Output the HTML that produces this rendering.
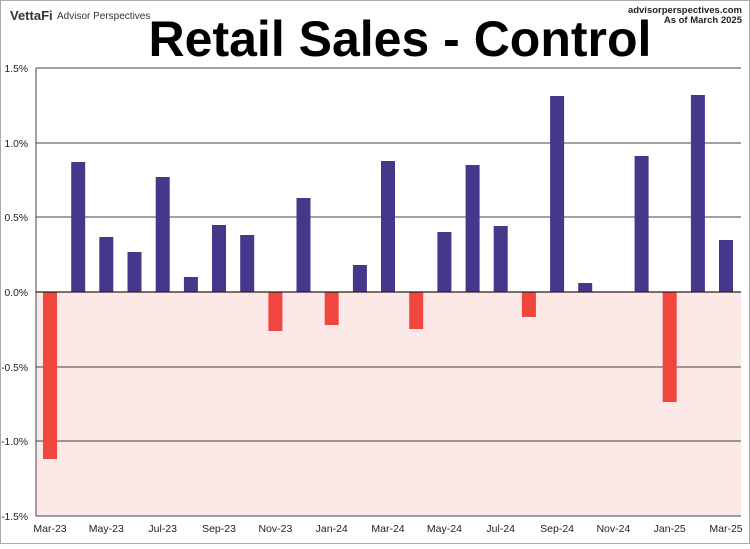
<!DOCTYPE html>
<html><head><style>html,body{margin:0;padding:0;background:#fff}</style></head><body>
<svg width="750" height="544" xmlns="http://www.w3.org/2000/svg" font-family="Liberation Sans, sans-serif">
<rect x="0.5" y="0.5" width="749" height="543" fill="#fff" stroke="#aaa"/>
<text x="10" y="20" font-size="13" font-weight="bold" fill="#333">VettaFi</text>
<text x="57" y="19" font-size="10" fill="#333">Advisor Perspectives</text>
<text x="400" y="56" font-size="50" font-weight="bold" text-anchor="middle" fill="#000">Retail Sales - Control</text>
<text x="742" y="13" font-size="9.5" font-weight="bold" text-anchor="end" fill="#222">advisorperspectives.com</text>
<text x="742" y="23" font-size="9.5" font-weight="bold" text-anchor="end" fill="#222">As of March 2025</text>
<rect x="36" y="292" width="705" height="224" fill="#fde8e8"/>
<g stroke="#444" stroke-width="1">
<line x1="36" y1="68" x2="741" y2="68"/>
<line x1="36" y1="143" x2="741" y2="143"/>
<line x1="36" y1="217" x2="741" y2="217"/>
<line x1="36" y1="367" x2="741" y2="367"/>
<line x1="36" y1="441" x2="741" y2="441"/>
<line x1="36" y1="68" x2="36" y2="516"/>
<line x1="36" y1="516" x2="741" y2="516"/>
</g>
<g fill="#46378a">
<rect x="71.2" y="162" width="14" height="130"/>
<rect x="99.3" y="237" width="14" height="55"/>
<rect x="127.5" y="252" width="14" height="40"/>
<rect x="155.7" y="177" width="14" height="115"/>
<rect x="183.9" y="277" width="14" height="15"/>
<rect x="212" y="225" width="14" height="67"/>
<rect x="240.2" y="235" width="14" height="57"/>
<rect x="296.5" y="198" width="14" height="94"/>
<rect x="352.9" y="265" width="14" height="27"/>
<rect x="381" y="161" width="14" height="131"/>
<rect x="437.4" y="232" width="14" height="60"/>
<rect x="465.6" y="165" width="14" height="127"/>
<rect x="493.7" y="226" width="14" height="66"/>
<rect x="550.1" y="96" width="14" height="196"/>
<rect x="578.2" y="283" width="14" height="9"/>
<rect x="634.6" y="156" width="14" height="136"/>
<rect x="690.9" y="95" width="14" height="197"/>
<rect x="719" y="240" width="14" height="52"/>
</g>
<g fill="#f1463e">
<rect x="43" y="292" width="14" height="167"/>
<rect x="268.4" y="292" width="14" height="39"/>
<rect x="324.7" y="292" width="14" height="33"/>
<rect x="409.2" y="292" width="14" height="37"/>
<rect x="521.9" y="292" width="14" height="25"/>
<rect x="662.7" y="292" width="14" height="110"/>
</g>
<line x1="36" y1="292" x2="741" y2="292" stroke="#222" stroke-width="1.3"/>
<g font-size="10.3" fill="#222" text-anchor="end">
<text x="28" y="72">1.5%</text>
<text x="28" y="147">1.0%</text>
<text x="28" y="221">0.5%</text>
<text x="28" y="296">0.0%</text>
<text x="28" y="371">-0.5%</text>
<text x="28" y="445">-1.0%</text>
<text x="28" y="520">-1.5%</text>
</g>
<g font-size="10.5" fill="#222" text-anchor="middle">
<text x="50" y="532">Mar-23</text>
<text x="106.3" y="532">May-23</text>
<text x="162.7" y="532">Jul-23</text>
<text x="219" y="532">Sep-23</text>
<text x="275.4" y="532">Nov-23</text>
<text x="331.7" y="532">Jan-24</text>
<text x="388" y="532">Mar-24</text>
<text x="444.4" y="532">May-24</text>
<text x="500.7" y="532">Jul-24</text>
<text x="557.1" y="532">Sep-24</text>
<text x="613.4" y="532">Nov-24</text>
<text x="669.7" y="532">Jan-25</text>
<text x="726" y="532">Mar-25</text>
</g>
</svg>
</body></html>
